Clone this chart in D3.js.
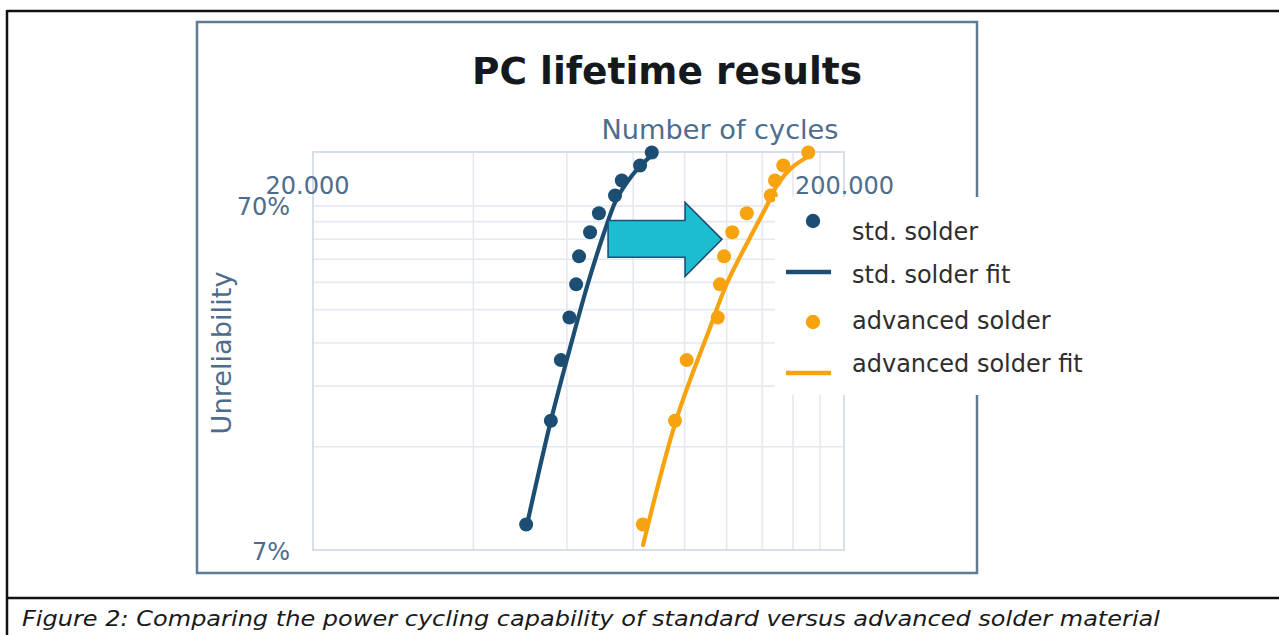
<!DOCTYPE html>
<html><head><meta charset="utf-8">
<script src="https://cdn.jsdelivr.net/npm/d3@7"></script>
<style>html,body{margin:0;padding:0;background:#fff;overflow:hidden;} svg{display:block;}</style>
</head><body>
<svg id="chart" width="1279" height="635"></svg>
<script>
// ---- data ----
const unreliabilityPct = [8.3, 16.6, 24.9, 33.1, 41.3, 49.8, 58.5, 66.4, 74.8, 82.7, 91.4, 99.7];
const stdSolderCycles  = [50400, 56100, 58600, 60800, 62600, 63400, 66500, 69100, 74100, 76300, 82600, 86900];
const advSolderCycles  = [83600, 96100, 101100, 115700, 116800, 118900, 123200, 131200, 145600, 148300, 153700, 171300];

const stdFitCycles = [50500, 56100, 61500, 65900, 70600, 74400, 78000, 82200, 88100];
const stdFitPct    = [8.2, 16.6, 28.4, 41.6, 58.1, 72.4, 81.6, 90.2, 99.7];
const advFitCycles = [83700, 96500, 111400, 120400, 133100, 142600, 149600, 159700, 172600];
const advFitPct    = [7.24, 16.6, 30.4, 41.6, 56.5, 69.1, 80.0, 90.2, 97.7];

const xTickValues = [20000, 200000];
const xTickLabels = ["20.000", "200.000"];
const xGridValues = [40000, 60000, 80000, 100000, 120000, 140000, 160000, 180000];
const yTickValues = [7, 70];
const yTickLabels = ["7%", "70%"];
const yGridValues = [14, 21, 28, 35, 42, 49, 56, 63, 70];

const legendLabels = ["std. solder", "std. solder fit", "advanced solder", "advanced solder fit"];
const legendKinds  = ["dot", "line", "dot", "line"];
const seriesColors = ["#1c4e73", "#1c4e73", "#f6a30f", "#f6a30f"];

// arrow annotation in data coordinates (cycles, %)
const arrowCycles = [71900, 100400, 100400, 117800, 100400, 100400, 71900];
const arrowPct    = [63.3, 63.3, 71.4, 55.8, 43.6, 49.5, 49.5];

const titleText = "PC lifetime results";
const xTitle = "Number of cycles";
const yTitle = "Unreliability";
const caption = "Figure 2: Comparing the power cycling capability of standard versus advanced solder material";

// ---- layout ----
const FONT = "'DejaVu Sans', Verdana, sans-serif";
const axisColor = "#4e6d8c";
const svg = d3.select("#chart");
const L = 313, R = 844, T = 152, B = 550;

const x = d3.scaleLog().domain([20000, 200000]).range([L, R]);
const y = d3.scaleLog().domain([7, 100]).range([B, T]);

// outer document borders
svg.append("line").attr("x1", 7).attr("x2", 1279).attr("y1", 11).attr("y2", 11).attr("stroke", "#111").attr("stroke-width", 2.5);
svg.append("line").attr("x1", 7).attr("x2", 7).attr("y1", 10).attr("y2", 635).attr("stroke", "#111").attr("stroke-width", 2.5);
svg.append("line").attr("x1", 7).attr("x2", 1279).attr("y1", 598).attr("y2", 598).attr("stroke", "#111").attr("stroke-width", 2.5);

// chart frame
svg.append("rect").attr("x", 197).attr("y", 22).attr("width", 780).attr("height", 551)
  .attr("fill", "none").attr("stroke", "#5f7c95").attr("stroke-width", 2.5);

// title
svg.append("text").attr("x", 472).attr("y", 84).text(titleText)
  .attr("font-family", FONT).attr("font-weight", "bold").attr("font-size", 37).attr("fill", "#15191d")
  .attr("textLength", 390).attr("lengthAdjust", "spacingAndGlyphs");

// gridlines
const gx = svg.append("g").attr("transform", `translate(0,${B})`)
  .call(d3.axisBottom(x).tickValues(xGridValues).tickSize(-(B - T)).tickFormat(""));
const gy = svg.append("g").attr("transform", `translate(${L},0)`)
  .call(d3.axisLeft(y).tickValues(yGridValues).tickSize(-(R - L)).tickFormat(""));
[gx, gy].forEach(g => {
  g.select(".domain").remove();
  g.selectAll(".tick line").attr("stroke", "#e4e9f0").attr("stroke-width", 1.6);
});

// plot border
svg.append("rect").attr("x", L).attr("y", T).attr("width", R - L).attr("height", B - T)
  .attr("fill", "none").attr("stroke", "#d3dce6").attr("stroke-width", 1.8);

// fit lines
const lineGen = d3.line().x(d => x(d[0])).y(d => y(d[1])).curve(d3.curveCatmullRom.alpha(0.5));
svg.append("path").datum(stdFitCycles.map((c, i) => [c, stdFitPct[i]]))
  .attr("d", lineGen).attr("fill", "none").attr("stroke", seriesColors[1]).attr("stroke-width", 4.2).attr("stroke-linecap", "round");
svg.append("path").datum(advFitCycles.map((c, i) => [c, advFitPct[i]]))
  .attr("d", lineGen).attr("fill", "none").attr("stroke", seriesColors[3]).attr("stroke-width", 4.2).attr("stroke-linecap", "round");

// points
svg.append("g").selectAll("circle").data(stdSolderCycles.map((c, i) => [c, unreliabilityPct[i]]))
  .join("circle").attr("cx", d => x(d[0])).attr("cy", d => y(d[1])).attr("r", 7).attr("fill", seriesColors[0]);
svg.append("g").selectAll("circle").data(advSolderCycles.map((c, i) => [c, unreliabilityPct[i]]))
  .join("circle").attr("cx", d => x(d[0])).attr("cy", d => y(d[1])).attr("r", 7).attr("fill", seriesColors[2]);

// arrow
svg.append("polygon")
  .attr("points", arrowCycles.map((c, i) => `${x(c)},${y(arrowPct[i])}`).join(" "))
  .attr("fill", "#1bbdd1").attr("stroke", "#1f4e79").attr("stroke-width", 1.6).attr("stroke-linejoin", "miter");

// x tick labels (top)
const ax = svg.append("g").attr("transform", `translate(0,197)`)
  .call(d3.axisTop(x).tickValues(xTickValues).tickSize(0).tickPadding(3).tickFormat((d, i) => xTickLabels[i]));
ax.select(".domain").remove();
ax.selectAll("text").attr("font-family", FONT).attr("font-size", 24).attr("fill", axisColor)
  .attr("dx", (d, i) => i === 0 ? -6 : 0);

// y tick labels
const ay = svg.append("g").attr("transform", `translate(293,0)`)
  .call(d3.axisLeft(y).tickValues(yTickValues).tickSize(0).tickPadding(3).tickFormat((d, i) => yTickLabels[i]));
ay.select(".domain").remove();
ay.selectAll("text").attr("font-family", FONT).attr("font-size", 24).attr("fill", axisColor).attr("dy", "0.4em");

// axis titles
svg.append("text").attr("x", 720).attr("y", 139).attr("text-anchor", "middle").text(xTitle)
  .attr("font-family", FONT).attr("font-size", 27).attr("fill", axisColor)
  .attr("textLength", 237).attr("lengthAdjust", "spacingAndGlyphs");
svg.append("text").attr("transform", "translate(231,353) rotate(-90)").attr("text-anchor", "middle").text(yTitle)
  .attr("font-family", FONT).attr("font-size", 27).attr("fill", axisColor)
  .attr("textLength", 163).attr("lengthAdjust", "spacingAndGlyphs");

// legend
svg.append("rect").attr("x", 775).attr("y", 197).attr("width", 330).attr("height", 198).attr("fill", "#fff");
const legendTextY = [240, 283, 329, 372];
const legendMarkY = [221, 272, 322, 373];
const lg = svg.append("g");
legendLabels.forEach((lab, i) => {
  if (legendKinds[i] === "dot") {
    lg.append("circle").attr("cx", 813).attr("cy", legendMarkY[i]).attr("r", 7.2).attr("fill", seriesColors[i]);
  } else {
    lg.append("line").attr("x1", 786).attr("x2", 831).attr("y1", legendMarkY[i]).attr("y2", legendMarkY[i])
      .attr("stroke", seriesColors[i]).attr("stroke-width", 4.5);
  }
  lg.append("text").attr("x", 852).attr("y", legendTextY[i]).text(lab)
    .attr("font-family", FONT).attr("font-size", 24).attr("fill", "#2e2e2e");
});

// caption
svg.append("text").attr("x", 22).attr("y", 626).text(caption)
  .attr("font-family", FONT).attr("font-style", "italic").attr("font-size", 22).attr("fill", "#1a1a1a")
  .attr("textLength", 1138).attr("lengthAdjust", "spacingAndGlyphs");
</script>
</body></html>
